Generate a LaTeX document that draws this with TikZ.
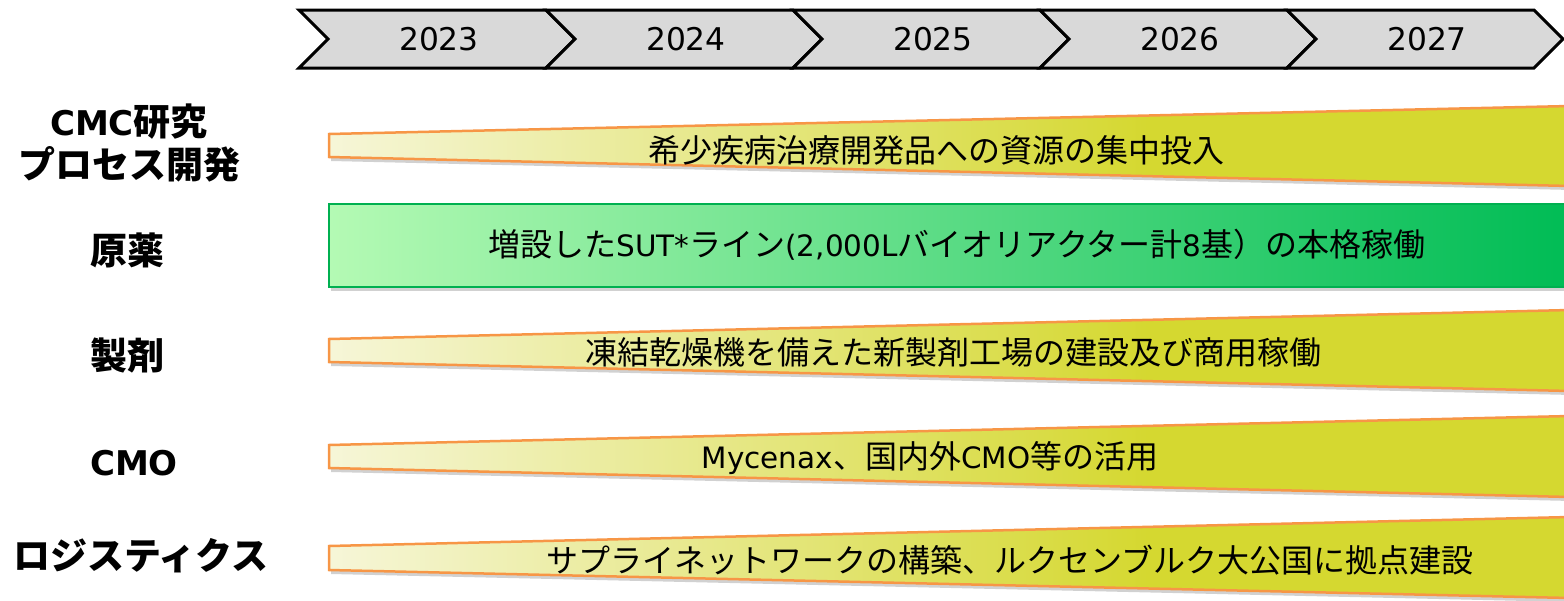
\documentclass[tikz,border=0pt]{standalone}
\usepackage{fontspec}
\setmainfont{Noto Sans CJK JP}
\newfontfamily\lat[Scale=0.92]{DejaVu Sans}
\usetikzlibrary{shadows}
\definecolor{yearfill}{RGB}{217,217,217}
\definecolor{wedgeline}{RGB}{247,150,70}
\definecolor{wedgeL}{RGB}{246,246,216}
\definecolor{wedgeR}{RGB}{213,216,48}
\definecolor{greenline}{RGB}{0,176,80}
\definecolor{greenL}{RGB}{180,250,180}
\definecolor{greenR}{RGB}{0,188,85}
\pgfdeclarehorizontalshading{wedgeshade}{100bp}{color(0bp)=(wedgeL); color(25bp)=(wedgeL); color(58bp)=(wedgeR); color(100bp)=(wedgeR)}

\begin{document}
\begin{tikzpicture}[
        x=1pt, y=-1pt,
        yearbox/.style={draw=black, line width=3pt, fill=yearfill, line join=miter},
        yeartext/.style={font=\fontsize{34}{40}\selectfont\lat, inner sep=0pt},
        barshadow/.style={drop shadow={shadow xshift=2pt, shadow yshift=-4pt, opacity=0.18, fill=black}},
        wedgebar/.style={draw=wedgeline, line width=2.5pt, shading=wedgeshade, barshadow},
        greenbar/.style={draw=greenline, line width=2.5pt, left color=greenL, right color=greenR, barshadow},
        rowlabel/.style={font=\fontsize{37}{43}\selectfont\bfseries, align=center, inner sep=0pt},
        bartext/.style={font=\fontsize{32}{38}\selectfont, inner sep=0pt}
    ]
    \useasboundingbox (0,0) rectangle (1564,600);

    % year chevrons
    \foreach \yr [count=\i from 0] in {2023,2024,2025,2026,2027} {
        \pgfmathsetmacro{\L}{299+247*\i}
        \path[yearbox] (\L,10) -- ++(247,0) -- ++(29,29) -- ++(-29,29) -- ++(-247,0) -- ++(29,-29) -- cycle;
        \node[yeartext] (y\yr) at (\L+140,39) {\yr};
    }

    % row labels
    \node[rowlabel] (cmc) at (129,143) {{\lat CMC}研究\\プロセス開発};
    \node[rowlabel] (genyaku) at (127,250) {原薬};
    \node[rowlabel] (seizai) at (127,355) {製剤};
    \node[rowlabel] (cmo) at (134,463) {\lat CMO};
    \node[rowlabel] (logi) at (141,556) {ロジスティクス};

    % bars
    \path[wedgebar] (329,134) -- (1570,106) -- (1570,186) -- (329,157) -- cycle;
    \path[greenbar] (329,204) rectangle (1570,287);
    \path[wedgebar] (329,339) -- (1570,310) -- (1570,391) -- (329,362) -- cycle;
    \path[wedgebar] (329,445) -- (1570,416) -- (1570,497) -- (329,468) -- cycle;
    \path[wedgebar] (329,546) -- (1570,517) -- (1570,598) -- (329,570) -- cycle;

    \node[bartext] (t1) at (936,150) {希少疾病治療開発品への資源の集中投入};
    \node[bartext] (t2) at (957,245) {増設した{\lat SUT*}ライン{\lat (2,000L}バイオリアクター計{\lat 8}基）の本格稼働};
    \node[bartext] (t3) at (953,352) {凍結乾燥機を備えた新製剤工場の建設及び商用稼働};
    \node[bartext] (t4) at (930,458) {{\lat Mycenax}、国内外{\lat CMO}等の活用};
    \node[bartext] (t5) at (1010,560) {サプライネットワークの構築、ルクセンブルク大公国に拠点建設};
\end{tikzpicture}
\end{document}
